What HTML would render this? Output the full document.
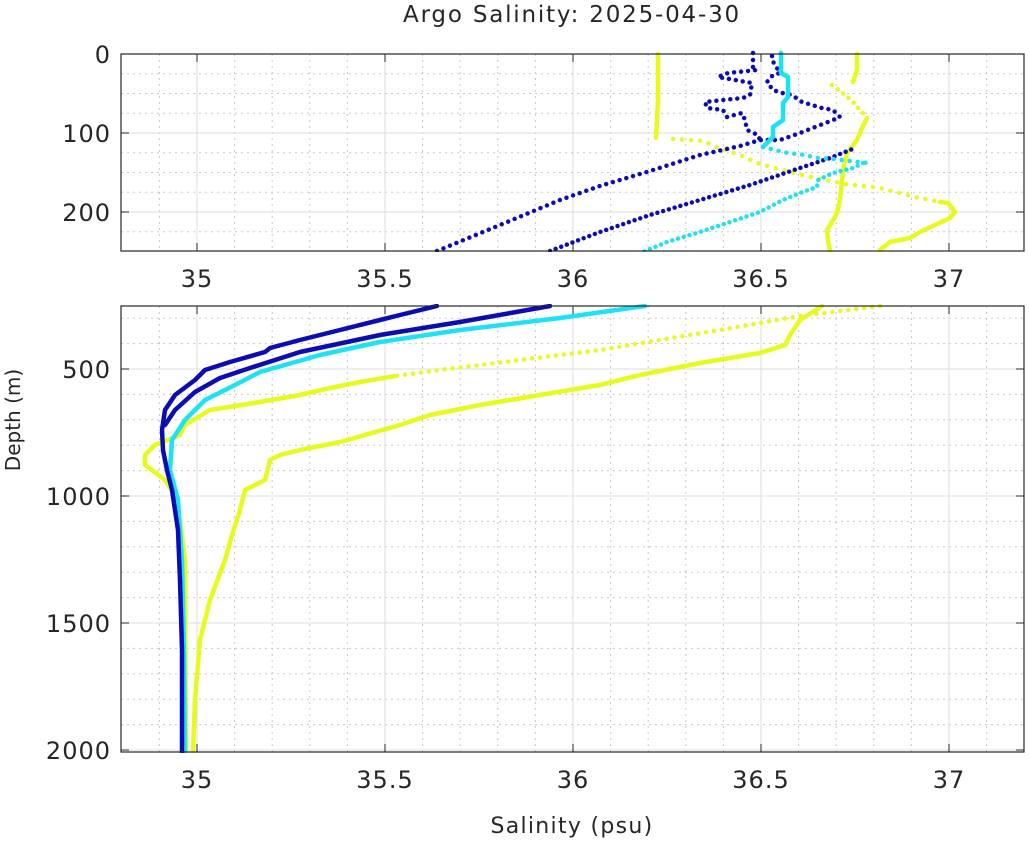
<!DOCTYPE html>
<html><head><meta charset="utf-8"><style>
body{margin:0;background:#fff;}
svg{display:block;font-family:"DejaVu Sans","Liberation Sans",sans-serif;}
</style></head><body>
<svg id="s" width="1029" height="841" viewBox="0 0 1029 841" xmlns="http://www.w3.org/2000/svg">
<rect width="1029" height="841" fill="#fff"/>
<g id="grid"></g>
<g fill="none" stroke-linecap="round" stroke-linejoin="round">
<g clip-path="url(#ct)">
<polyline stroke="#e6fa1e" stroke-width="4.5" points="658,54 658,100 656,138"/>
<polyline stroke="#e6fa1e" stroke-width="4.5" stroke-dasharray="0 9" points="673,139 703,141 716,147 740,155 760,164 790,172 815,178 845,184 880,188 915,197 940,202"/>
<polyline stroke="#e6fa1e" stroke-width="4.5" points="940,202 948,203 955,212 950,218 935,225 920,232 910,238 890,242 880,250"/>
<polyline stroke="#e6fa1e" stroke-width="4.5" points="857,54 857,70 853,82"/>
<polyline stroke="#e6fa1e" stroke-width="4.5" stroke-dasharray="0 7" points="832,85 845,95 853,102 860,110 867,118"/>
<polyline stroke="#e6fa1e" stroke-width="4.5" points="867,118 862,128 857,140 847,153 844,165 842,180 840,200 837,213 832,222 827,230 828,240 830,252"/>
<polyline stroke="#0c0cb4" stroke-width="4.5" stroke-dasharray="0 7" points="437,251 500,225 560,200 600,186 650,171 700,155 740,146 760,140 780,140 800,133 833,120 840,117 833,110 822,108 802,102 792,95 782,93 773,90 767,82 773,75 780,73 772,60 772,53"/>
<polyline stroke="#0c0cb4" stroke-width="4.5" stroke-dasharray="0 7" points="753,53 753,67 757,70 738,72 728,73 718,77 752,83 750,95 743,98 723,100 705,102 707,108 723,110 727,117 742,113 745,120 747,130 758,135 760,140"/>
<polyline stroke="#0c0cb4" stroke-width="4.5" stroke-dasharray="0 6" points="550,251 600,232 650,215 700,200 750,185 800,168 830,158 845,152 855,148"/>
<polyline stroke="#1fe1f5" stroke-width="4.5" points="781,53 781,73 788,77 788,97 783,103 783,120 773,127 773,137 763,147"/>
<polyline stroke="#1fe1f5" stroke-width="4.5" stroke-dasharray="0 8" points="763,147 775,150 788,153 805,155 817,158 833,159 850,161 867,163"/>
<polyline stroke="#1fe1f5" stroke-width="4.5" stroke-dasharray="0 6" points="863,163 853,168 833,173 818,180 817,187 800,193 783,200 760,212 727,223 700,232 667,242 643,252"/>
</g>
<g clip-path="url(#cb)">
<polyline stroke="#e6fa1e" stroke-width="4.5" points="822,306 800,320 790,335 785,345 760,353 700,363 640,375 600,385 540,395 480,405 430,415 400,425 340,442 300,450 280,455 270,460 265,480 245,490 240,510 232,535 225,560 210,600 200,640 195,700 193,752"/>
<polyline stroke="#e6fa1e" stroke-width="4.5" stroke-dasharray="0 8" points="880,306 800,316 720,330 600,350 520,360 440,370 395,376"/>
<polyline stroke="#e6fa1e" stroke-width="4.5" points="395,376 360,382 330,388 300,395 260,402 210,410 185,425 180,435 155,445 145,455 145,465 152,470 165,480 175,495 180,520 185,560 186,752"/>
<polyline stroke="#1fe1f5" stroke-width="4.5" points="645,306 560,318 460,330 380,342 320,355 260,372 235,385 205,400 185,420 172,440 170,470 178,500 182,560 184,650 185,752"/>
<polyline stroke="#0c0cb4" stroke-width="4.5" points="550,306 460,322 380,335 300,352 250,368 220,378 195,392 175,410 165,425"/>
<polyline stroke="#0c0cb4" stroke-width="4.5" points="437,306 400,315 340,330 300,340 270,348 265,352 230,362 205,370 195,380 175,395 165,410 162,430 163,450 167,470 172,490 178,530 180,580 182,650 182,752"/>
</g>
</g>
<defs>
<clipPath id="ct"><rect x="121" y="50" width="903" height="202"/></clipPath>
<clipPath id="cb"><rect x="121" y="304" width="903" height="449"/></clipPath>
</defs>
<g fill="none" stroke="#262626" stroke-width="1.2">
<rect x="121" y="54" width="903" height="197"/>
<rect x="121" y="306" width="903" height="446"/>
</g>
<g id="ticks" stroke="#262626" stroke-width="1.2"></g>
<g fill="#262626" font-size="24" text-anchor="middle" letter-spacing="1">
<text x="197" y="287">35</text><text x="385" y="287">35.5</text><text x="573" y="287">36</text><text x="761" y="287">36.5</text><text x="949" y="287">37</text>
<text x="197" y="788">35</text><text x="385" y="788">35.5</text><text x="573" y="788">36</text><text x="761" y="788">36.5</text><text x="949" y="788">37</text>
</g>
<g fill="#262626" font-size="24" text-anchor="end" letter-spacing="1">
<text x="111" y="63">0</text><text x="111" y="142">100</text><text x="111" y="221">200</text>
<text x="111" y="378">500</text><text x="111" y="505">1000</text><text x="111" y="632">1500</text><text x="111" y="759">2000</text>
</g>
<text x="572" y="22" font-size="23" fill="#262626" text-anchor="middle" letter-spacing="1.8">Argo Salinity: 2025-04-30</text>
<text x="572" y="833" font-size="22" fill="#262626" text-anchor="middle" letter-spacing="1.3">Salinity (psu)</text>
<text transform="translate(20,420) rotate(-90)" font-size="20" fill="#262626" text-anchor="middle">Depth (m)</text>
</svg>
<script>
var NS="http://www.w3.org/2000/svg",g=document.getElementById("grid"),tk=document.getElementById("ticks");
function ln(p,x1,y1,x2,y2,st,dash){var l=document.createElementNS(NS,"line");l.setAttribute("x1",x1);l.setAttribute("y1",y1);l.setAttribute("x2",x2);l.setAttribute("y2",y2);l.setAttribute("stroke",st);l.setAttribute("stroke-width","1");if(dash)l.setAttribute("stroke-dasharray",dash);p.appendChild(l);}
function X(v){return 197+(v-35)*376;}
var panels=[[54,251,function(d){return 54+d*0.79;},25,250,[0,100,200]],[306,752,function(d){return 496+(d-1000)*0.254;},100,2000,[500,1000,1500,2000]]];
panels.forEach(function(P){
 var t=P[0],b=P[1],Y=P[2];
 for(var i=0;i<=24;i++){var v=34.8+i*0.1,x=X(v);var maj=Math.abs((v*2)-Math.round(v*2))<1e-6;
  if(x<=122||x>=1023)continue;
  if(maj){ln(g,x,t,x,b,"#dcdcdc");ln(tk,x,t,x,t+8,"#262626");ln(tk,x,b,x,b-8,"#262626");}
  else ln(g,x,t,x,b,"#c8c8c8","2 4");}
 for(var d=0;d<=P[4];d+=P[3]){var y=Y(d);if(y<t+1||y>b-1)continue;
  if(P[5].indexOf(d)>=0){ln(g,121,y,1024,y,"#dcdcdc");ln(tk,121,y,129,y,"#262626");ln(tk,1024,y,1016,y,"#262626");}
  else ln(g,121,y,1024,y,"#c8c8c8","2 4");}
});
</script>
</body></html>
